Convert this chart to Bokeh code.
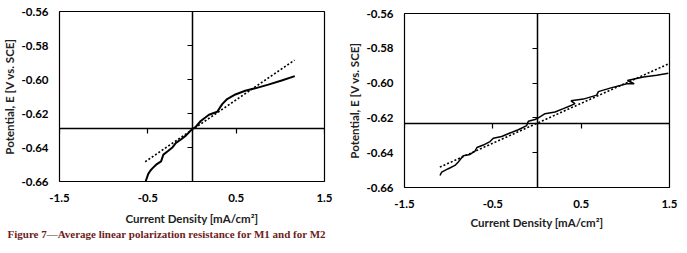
from bokeh.plotting import figure
from bokeh.layouts import row, column
from bokeh.models import (LinearAxis, FixedTicker, Range1d, CustomJSTickFormatter, Title)
from bokeh.embed import file_html
from bokeh.resources import INLINE

# ---------------- data ----------------
X_TICKS = [-1.5, -0.5, 0.5, 1.5]
X_TICK_LABELS = ["-1.5", "-0.5", "0.5", "1.5"]
Y_TICKS = [-0.66, -0.64, -0.62, -0.60, -0.58, -0.56]
Y_TICK_LABELS = ["-0.66", "-0.64", "-0.62", "-0.60", "-0.58", "-0.56"]

X_LABEL = "Current Density [mA/cm²]"
Y_LABEL = "Potential, E [V vs. SCE]"
CAPTION = "Figure 7\u2014Average linear polarization resistance for M1 and for M2"

# M1 (left chart)
M1_CURRENT = [-0.525, -0.495, -0.470, -0.443, -0.406, -0.350, -0.324, -0.275, -0.219,
              -0.182, -0.126, -0.070, 0.0, 0.043, 0.099, 0.192, 0.286, 0.342, 0.398,
              0.491, 0.603, 0.715, 0.864, 1.015, 1.164]
M1_POTENTIAL = [-0.660, -0.6555, -0.6535, -0.652, -0.6501, -0.6482, -0.6442, -0.6422, -0.6398,
                -0.6373, -0.6353, -0.633, -0.6293, -0.6278, -0.6244, -0.6207, -0.619, -0.6145,
                -0.6115, -0.6088, -0.6066, -0.6052, -0.603, -0.6006, -0.598]
M1_FIT_CURRENT = [-0.53, 1.16]
M1_FIT_POTENTIAL = [-0.6484, -0.5886]
M1_CROSS_E = -0.629

# M2 (right chart)
M2_CURRENT = [-1.098, -1.079, -1.004, -0.929, -0.891, -0.835, -0.759, -0.702, -0.68,
              -0.608, -0.532, -0.495, -0.400, -0.306, -0.212, -0.117, -0.098, -0.023,
              0.015, 0.091, 0.204, 0.298, 0.393, 0.43, 0.385, 0.525, 0.676, 0.695,
              0.827, 1.016, 1.10, 1.023, 1.204, 1.355, 1.487]
M2_POTENTIAL = [-0.6531, -0.6512, -0.6492, -0.6473, -0.6453, -0.6418, -0.641, -0.6391, -0.637,
                -0.6356, -0.6336, -0.6317, -0.6307, -0.6287, -0.6268, -0.6244, -0.6219, -0.6209,
                -0.620, -0.6176, -0.6166, -0.6147, -0.6127, -0.6118, -0.6102, -0.6092, -0.6069,
                -0.6049, -0.6029, -0.6004, -0.6004, -0.5985, -0.5965, -0.5955, -0.5944]
M2_FIT_CURRENT = [-1.10, 1.50]
M2_FIT_POTENTIAL = [-0.6483, -0.5887]
M2_CROSS_E = -0.623

TICK_FONT = "Lato"
LABEL_FONT = "Lato"


def make_chart(width, height, mb_left, mb_right, mb_top, mb_bottom,
               cur, pot, fit_x, fit_y, cross_e, line_w, xl_standoff, xa_standoff):
    p = figure(width=width, height=height, output_backend="svg", toolbar_location=None,
               x_range=Range1d(X_TICKS[0], X_TICKS[-1]), y_range=Range1d(Y_TICKS[0], Y_TICKS[-1]),
               min_border_left=mb_left, min_border_right=mb_right,
               min_border_top=mb_top, min_border_bottom=mb_bottom)
    p.grid.visible = False
    p.outline_line_color = "black"
    p.outline_line_width = 1.2
    p.background_fill_color = "white"
    p.border_fill_color = "white"

    for ax, ticks, labels in ((p.xaxis[0], X_TICKS, X_TICK_LABELS), (p.yaxis[0], Y_TICKS, Y_TICK_LABELS)):
        ax.ticker = FixedTicker(ticks=ticks)
        ax.major_label_overrides = {t: l for t, l in zip(ticks, labels)}
        ax.axis_line_color = None
        ax.major_tick_line_color = None
        ax.minor_tick_line_color = None
        ax.major_tick_out = 0
        ax.major_tick_in = 0
        ax.major_label_text_font = TICK_FONT
        ax.major_label_text_font_style = "bold"
        ax.major_label_text_font_size = "11.5px"
        ax.major_label_text_color = "black"
        ax.axis_label_text_font = LABEL_FONT
        ax.axis_label_text_font_style = "bold"
        ax.axis_label_text_font_size = "11.5px"
        ax.axis_label_text_color = "#222222"
    p.xaxis[0].axis_label = X_LABEL
    p.yaxis[0].axis_label = Y_LABEL
    p.xaxis[0].major_label_standoff = xl_standoff
    p.xaxis[0].axis_label_standoff = xa_standoff
    p.yaxis[0].major_label_standoff = 11
    p.yaxis[0].axis_label_standoff = 2

    blank = CustomJSTickFormatter(code="return ''")
    vax = LinearAxis(fixed_location=0, ticker=FixedTicker(ticks=Y_TICKS), formatter=blank,
                     major_tick_out=5, major_tick_in=0, minor_tick_line_color=None,
                     axis_line_width=1.5, major_tick_line_width=1.2)
    hax = LinearAxis(fixed_location=cross_e, ticker=FixedTicker(ticks=X_TICKS), formatter=blank,
                     major_tick_out=5, major_tick_in=0, minor_tick_line_color=None,
                     axis_line_width=1.5, major_tick_line_width=1.2)
    p.add_layout(vax, "left")
    p.add_layout(hax, "below")

    p.line(fit_x, fit_y, line_color="black", line_width=1.6, line_dash="2 2")
    p.line(cur, pot, line_color="black", line_width=line_w)
    return p


p1 = make_chart(340, 253, 57, 16, 11, 72, M1_CURRENT, M1_POTENTIAL,
                M1_FIT_CURRENT, M1_FIT_POTENTIAL, M1_CROSS_E, 2.0, 12, 7)
p2 = make_chart(347, 253, 64, 18, 13, 66, M2_CURRENT, M2_POTENTIAL,
                M2_FIT_CURRENT, M2_FIT_POTENTIAL, M2_CROSS_E, 1.5, 12, 5)

cap = Title(text=CAPTION, align="left", offset=-52, standoff=0, vertical_align="top",
            text_line_height=0.9,
            text_font="Liberation Serif", text_font_style="bold", text_font_size="11px",
            text_color="#6e1c1c")
p1.add_layout(cap, "below")

layout = row(column(p1), column(p2))
open("out.html", "w").write(file_html(layout, INLINE))
